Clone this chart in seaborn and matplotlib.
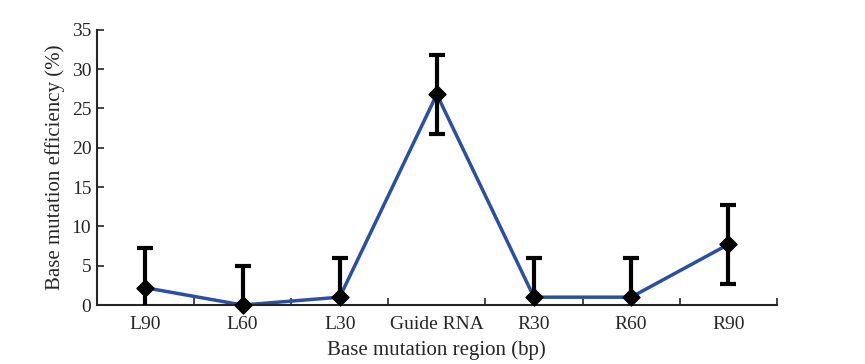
import numpy as np
import pandas as pd
import seaborn as sns
import matplotlib.pyplot as plt

# veri: bölgeler ve mutasyon verimliliği (%)
regions = ["L90", "L60", "L30", "Guide RNA", "R30", "R60", "R90"]
efficiency = [2.2, 0.0, 1.0, 26.8, 1.0, 1.0, 7.7]
error = [5.0, 5.0, 5.0, 5.0, 5.0, 5.0, 5.0]

df = pd.DataFrame({"region": regions, "eff": efficiency, "err": error})
df["pos"] = np.arange(len(df))

sns.set_style("ticks")
plt.rcParams["font.family"] = ["Liberation Serif", "DejaVu Serif"]

fig, ax = plt.subplots(figsize=(8.65, 3.64), dpi=100)
fig.subplots_adjust(left=0.112, right=0.898, bottom=0.162, top=0.918)

sns.lineplot(data=df, x="pos", y="eff", color="#2b4fa3", linewidth=2.5, ax=ax, zorder=2)
ax.errorbar(df["pos"], df["eff"], yerr=df["err"], fmt="none", ecolor="black",
            elinewidth=3, capsize=6, capthick=3, zorder=3)
ax.scatter(df["pos"], df["eff"], marker="D", s=75, color="black", zorder=4, clip_on=False)

ax.set_xlim(-0.5, len(regions) - 0.5)
ax.set_ylim(0, 35)
ax.set_yticks(range(0, 36, 5))
ax.set_xticks(df["pos"])
ax.set_xticklabels(regions)
ax.set_xticks(np.arange(-0.5, len(regions)), minor=True)
ax.tick_params(axis="x", which="major", length=0, pad=8, labelsize=14)
ax.tick_params(axis="x", which="minor", direction="in", length=5, width=1.2)
ax.tick_params(axis="y", direction="in", length=5, width=1.2, labelsize=14, pad=4)

ax.set_xlabel("Base mutation region (bp)", fontsize=15, labelpad=5)
ax.set_ylabel("Base mutation efficiency (%)", fontsize=15, labelpad=5)

sns.despine(ax=ax)
for s in ["left", "bottom"]:
    ax.spines[s].set_linewidth(1.5)

plt.savefig("out.png", dpi=100)
